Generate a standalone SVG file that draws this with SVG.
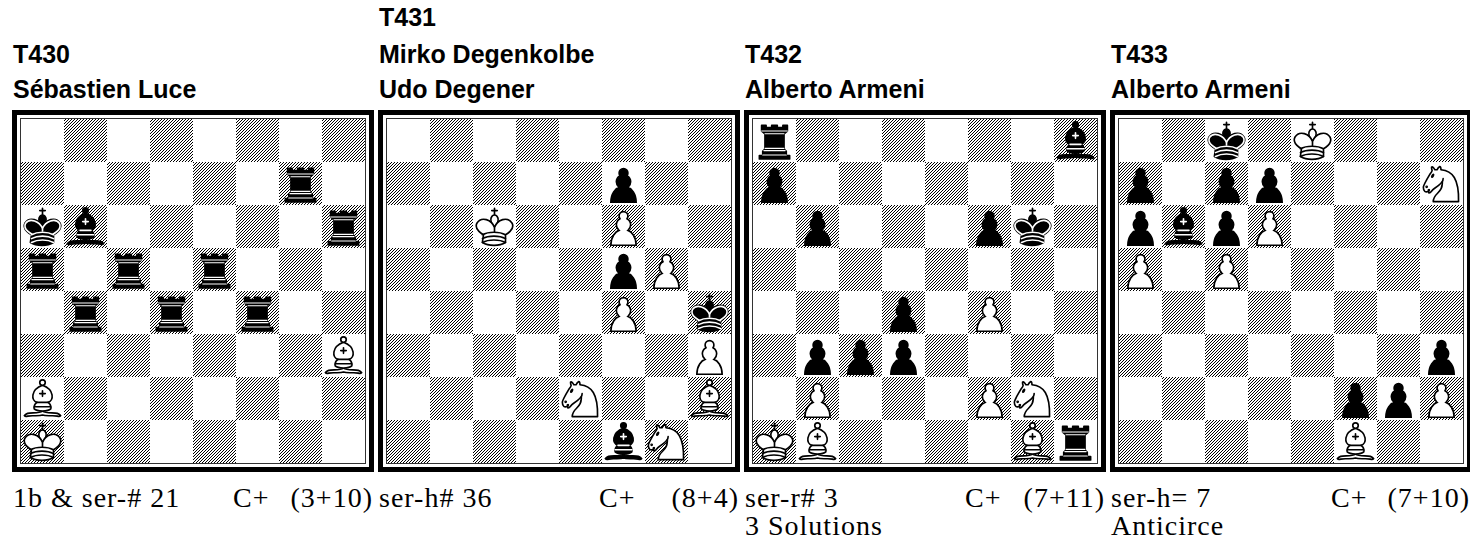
<svg xmlns="http://www.w3.org/2000/svg" xmlns:xlink="http://www.w3.org/1999/xlink" width="1470" height="542" viewBox="0 0 1470 542">
<style>
.t{font-family:"Liberation Sans",Arial,sans-serif;font-weight:bold;font-size:25px;fill:#000}
.s{font-family:"Liberation Serif","Times New Roman",serif;font-size:28px;letter-spacing:1px;fill:#000}
.e{text-anchor:end}
.frame{fill:none;stroke:#000;stroke-width:5}
.inner{fill:#fff;stroke:#333;stroke-width:1}
.pc{overflow:visible}
</style>
<defs>
<pattern id="hp" width="3" height="3" patternUnits="userSpaceOnUse">
<path d="M2,0h1v1h-1zM1,1h1v1h-1zM0,2h1v1h-1z" fill="#000" shape-rendering="crispEdges"/>
</pattern>
<path id="darks" fill="url(#hp)" d="M43,0h43v43h-43zM129,0h43v43h-43zM215,0h43v43h-43zM301,0h43v43h-43zM0,43h43v43h-43zM86,43h43v43h-43zM172,43h43v43h-43zM258,43h43v43h-43zM43,86h43v43h-43zM129,86h43v43h-43zM215,86h43v43h-43zM301,86h43v43h-43zM0,129h43v43h-43zM86,129h43v43h-43zM172,129h43v43h-43zM258,129h43v43h-43zM43,172h43v43h-43zM129,172h43v43h-43zM215,172h43v43h-43zM301,172h43v43h-43zM0,215h43v43h-43zM86,215h43v43h-43zM172,215h43v43h-43zM258,215h43v43h-43zM43,258h43v43h-43zM129,258h43v43h-43zM215,258h43v43h-43zM301,258h43v43h-43zM0,301h43v43h-43zM86,301h43v43h-43zM172,301h43v43h-43zM258,301h43v43h-43z"/>
<symbol id="wk" viewBox="0 0 45 45" class="pc">
<g transform="translate(22.5,22.5) scale(1.1) translate(-22.5,-22.5)" fill="none" fill-rule="evenodd" stroke="#000" stroke-width="1.5" stroke-linecap="round" stroke-linejoin="round">
<path d="M22.5,11.63V6M20,8h5" stroke-linejoin="miter"/>
<path d="M22.5,25C22.5,25 27,17.5 25.5,14.5C25.5,14.5 24.5,12 22.5,12C20.5,12 19.5,14.5 19.5,14.5C18,17.5 22.5,25 22.5,25" fill="#fff" stroke-linecap="butt" stroke-linejoin="miter"/>
<path d="M11.5,37C17,40.5 27,40.5 32.5,37L32.5,30C32.5,30 41.5,25.5 38.5,19.5C34.5,13 25,16 22.5,23.5L22.5,27L22.5,23.5C20,16 10.5,13 6.5,19.5C3.5,25.5 12.5,30 12.5,30L11.5,37" fill="#fff"/>
<path d="M11.5,30C17,27 27,27 32.5,30M11.5,33.5C17,30.5 27,30.5 32.5,33.5M11.5,37C17,34 27,34 32.5,37"/>
</g>
</symbol>
<symbol id="bk" viewBox="0 0 45 45" class="pc">
<g transform="translate(22.5,22.5) scale(1.1) translate(-22.5,-22.5)" fill="none" fill-rule="evenodd" stroke="#000" stroke-width="1.5" stroke-linecap="round" stroke-linejoin="round">
<path d="M22.5,11.63V6M20,8h5" stroke-linejoin="miter"/>
<path d="M22.5,25C22.5,25 27,17.5 25.5,14.5C25.5,14.5 24.5,12 22.5,12C20.5,12 19.5,14.5 19.5,14.5C18,17.5 22.5,25 22.5,25" fill="#000" stroke-linecap="butt" stroke-linejoin="miter"/>
<path d="M11.5,37C17,40.5 27,40.5 32.5,37L32.5,30C32.5,30 41.5,25.5 38.5,19.5C34.5,13 25,16 22.5,23.5L22.5,27L22.5,23.5C20,16 10.5,13 6.5,19.5C3.5,25.5 12.5,30 12.5,30L11.5,37" fill="#000"/>
<path d="M32,29.5C32,29.5 40.5,25.5 38.03,19.85C34.15,14 25,18 22.5,24.5L22.5,26.6L22.5,24.5C20,18 10.850,14 6.97,19.85C4.5,25.5 13,29.5 13,29.5" stroke="#fff"/>
<path d="M12.5,30C18,27 27,27 32.5,30M12.5,33.5C18,30.5 27,30.5 32.5,33.5M12.5,37C18,34 27,34 32.5,37" stroke="#fff"/>
</g>
</symbol>
<symbol id="br" viewBox="0 0 45 45" class="pc">
<g transform="translate(22.5,22.5) scale(1.12) translate(-22.5,-22.5)" fill="#000" fill-rule="evenodd" stroke="#000" stroke-width="1.5" stroke-linecap="round" stroke-linejoin="round">
<path d="M9,39h27v-3H9v3zM12.5,32l1.5-2.5h17l1.5,2.5h-20zM12,36v-4h21v4H12z" stroke-linecap="butt"/>
<path d="M14,29.5v-13h17v13H14z" stroke-linecap="butt" stroke-linejoin="miter"/>
<path d="M14,16.5L11,14h23l-3,2.5H14zM11,14V9h4v2h5V9h5v2h5V9h4v5H11z" stroke-linecap="butt"/>
<path d="M12,35.5h21M13,31.5h19M14,29.5h17M14,16.5h17M11,14h23" fill="none" stroke="#fff" stroke-width="1" stroke-linejoin="miter"/>
</g>
</symbol>
<symbol id="wb" viewBox="0 0 45 45" class="pc">
<g transform="translate(22.5,22.5) scale(1.1) translate(-22.5,-22.5)" fill="none" fill-rule="evenodd" stroke="#000" stroke-width="1.5" stroke-linecap="round" stroke-linejoin="round">
<g fill="#fff" stroke-linecap="butt">
<path d="M9,36C12.39,35.03 19.11,36.43 22.5,34C25.89,36.43 32.61,35.03 36,36C36,36 37.65,36.54 39,38C38.32,38.97 37.35,38.99 36,38.5C32.61,37.53 25.89,38.96 22.5,37.5C19.11,38.96 12.39,37.53 9,38.5C7.65,38.99 6.68,38.97 6,38C7.35,36.54 9,36 9,36z"/>
<path d="M15,32C17.5,34.5 27.5,34.5 30,32C30.5,30.5 30,30 30,30C30,27.5 27.5,26 27.5,26C33,24.5 33.5,14.5 22.5,10.5C11.5,14.5 12,24.5 17.5,26C17.5,26 15,27.5 15,30C15,30 14.5,30.5 15,32z"/>
<path d="M25,8A2.5,2.5 0 1 1 20,8A2.5,2.5 0 1 1 25,8z"/>
</g>
<path d="M17.5,26L27.5,26M15,30L30,30M22.5,15.5L22.5,20.5M20,18L25,18" stroke-linejoin="miter"/>
</g>
</symbol>
<symbol id="bb" viewBox="0 0 45 45" class="pc">
<g transform="translate(22.5,22.5) scale(1.1) translate(-22.5,-22.5)" fill="none" fill-rule="evenodd" stroke="#000" stroke-width="1.5" stroke-linecap="round" stroke-linejoin="round">
<g fill="#000" stroke-linecap="butt">
<path d="M9,36C12.39,35.03 19.11,36.43 22.5,34C25.89,36.43 32.61,35.03 36,36C36,36 37.65,36.54 39,38C38.32,38.97 37.35,38.99 36,38.5C32.61,37.53 25.89,38.96 22.5,37.5C19.11,38.96 12.39,37.53 9,38.5C7.65,38.99 6.68,38.97 6,38C7.35,36.54 9,36 9,36z"/>
<path d="M15,32C17.5,34.5 27.5,34.5 30,32C30.5,30.5 30,30 30,30C30,27.5 27.5,26 27.5,26C33,24.5 33.5,14.5 22.5,10.5C11.5,14.5 12,24.5 17.5,26C17.5,26 15,27.5 15,30C15,30 14.5,30.5 15,32z"/>
<path d="M25,8A2.5,2.5 0 1 1 20,8A2.5,2.5 0 1 1 25,8z"/>
</g>
<path d="M17.5,26L27.5,26M15,30L30,30M22.5,15.5L22.5,20.5M20,18L25,18" stroke="#fff" stroke-linejoin="miter"/>
</g>
</symbol>
<symbol id="wn" viewBox="0 0 45 45" class="pc">
<g transform="translate(22.5,22.5) scale(1.1) translate(-22.5,-22.5)" fill="none" fill-rule="evenodd" stroke="#000" stroke-width="1.5" stroke-linecap="round" stroke-linejoin="round">
<path d="M22,10C32.5,11 38.5,18 38,39L15,39C15,30 25,32.5 23,18" fill="#fff"/>
<path d="M24,18C24.38,20.91 18.45,25.37 16,27C13,29 13.18,31.34 11,31C9.958,30.06 12.41,27.96 11,28C10,28 11.19,29.23 10,30C9,30 5.997,31 6,26C6,24 12,14 12,14C12,14 13.89,12.1 14,10.5C13.27,9.506 13.5,8.5 13.5,7.5C14.5,6.5 16.5,10 16.5,10L18.5,10C18.5,10 19.28,8.008 21,7C22,7 22,10 22,10" fill="#fff"/>
<path d="M9.5,25.5A0.5,0.5 0 1 1 8.5,25.5A0.5,0.5 0 1 1 9.5,25.5z" fill="#000"/>
<path d="M15,15.5A0.5,1.5 0 1 1 14,15.5A0.5,1.5 0 1 1 15,15.5z" transform="matrix(0.866,0.5,-0.5,0.866,9.693,-5.173)" fill="#000"/>
</g>
</symbol>
<symbol id="wp" viewBox="0 0 45 45" class="pc">
<path transform="translate(22.5,22.5) scale(1.1) translate(-22.5,-22.5)" d="M22.5,9C20.29,9 18.5,10.79 18.5,13C18.5,13.89 18.79,14.71 19.28,15.38C17.33,16.5 16,18.59 16,21C16,23.03 16.940,24.84 18.41,26.03C15.41,27.09 11,31.58 11,39.5L34,39.5C34,31.58 29.59,27.09 26.59,26.03C28.06,24.84 29,23.03 29,21C29,18.59 27.67,16.5 25.72,15.38C26.21,14.71 26.5,13.89 26.5,13C26.5,10.79 24.71,9 22.5,9z" fill="#fff" stroke="#000" stroke-width="1.5" stroke-linecap="round"/>
</symbol>
<symbol id="bp" viewBox="0 0 45 45" class="pc">
<path transform="translate(22.5,22.5) scale(1.1) translate(-22.5,-22.5)" d="M22.5,9C20.29,9 18.5,10.79 18.5,13C18.5,13.89 18.79,14.71 19.28,15.38C17.33,16.5 16,18.59 16,21C16,23.03 16.940,24.84 18.41,26.03C15.41,27.09 11,31.58 11,39.5L34,39.5C34,31.58 29.59,27.09 26.59,26.03C28.06,24.84 29,23.03 29,21C29,18.59 27.67,16.5 25.72,15.38C26.21,14.71 26.5,13.89 26.5,13C26.5,10.79 24.71,9 22.5,9z" fill="#000" stroke="#000" stroke-width="1.5" stroke-linecap="round"/>
</symbol>
</defs>
<rect width="1470" height="542" fill="#fff"/>

<g id="T430">
<text class="t" x="13" y="63">T430</text>
<text class="t" x="13" y="98">Sébastien Luce</text>
<rect class="frame" x="14.5" y="112.5" width="357" height="357"/>
<rect class="inner" x="20.5" y="118.5" width="345" height="345"/>
<use xlink:href="#darks" x="21" y="119"/>
<use xlink:href="#br" x="278" y="161" width="45" height="45"/>
<use xlink:href="#bk" x="20" y="204" width="45" height="45"/>
<use xlink:href="#bb" x="63" y="204" width="45" height="45"/>
<use xlink:href="#br" x="321" y="204" width="45" height="45"/>
<use xlink:href="#br" x="20" y="247" width="45" height="45"/>
<use xlink:href="#br" x="106" y="247" width="45" height="45"/>
<use xlink:href="#br" x="192" y="247" width="45" height="45"/>
<use xlink:href="#br" x="63" y="290" width="45" height="45"/>
<use xlink:href="#br" x="149" y="290" width="45" height="45"/>
<use xlink:href="#br" x="235" y="290" width="45" height="45"/>
<use xlink:href="#wb" x="321" y="333" width="45" height="45"/>
<use xlink:href="#wb" x="20" y="376" width="45" height="45"/>
<use xlink:href="#wk" x="20" y="419" width="45" height="45"/>
<text class="s" x="13" y="507">1b &amp; ser-# 21</text>
<text class="s" x="233" y="507">C+</text>
<text class="s e" x="373" y="507">(3+10)</text>
</g>

<g id="T431">
<text class="t" x="379" y="26">T431</text>
<text class="t" x="379" y="63">Mirko Degenkolbe</text>
<text class="t" x="379" y="98">Udo Degener</text>
<rect class="frame" x="380.5" y="112.5" width="357" height="357"/>
<rect class="inner" x="386.5" y="118.5" width="345" height="345"/>
<use xlink:href="#darks" x="387" y="119"/>
<use xlink:href="#bp" x="601" y="161" width="45" height="45"/>
<use xlink:href="#wk" x="472" y="204" width="45" height="45"/>
<use xlink:href="#wp" x="601" y="204" width="45" height="45"/>
<use xlink:href="#bp" x="601" y="247" width="45" height="45"/>
<use xlink:href="#wp" x="644" y="247" width="45" height="45"/>
<use xlink:href="#wp" x="601" y="290" width="45" height="45"/>
<use xlink:href="#bk" x="687" y="290" width="45" height="45"/>
<use xlink:href="#wp" x="687" y="333" width="45" height="45"/>
<use xlink:href="#wn" x="558" y="376" width="45" height="45"/>
<use xlink:href="#wb" x="687" y="376" width="45" height="45"/>
<use xlink:href="#bb" x="601" y="419" width="45" height="45"/>
<use xlink:href="#wn" x="644" y="419" width="45" height="45"/>
<text class="s" x="379" y="507">ser-h# 36</text>
<text class="s" x="599" y="507">C+</text>
<text class="s e" x="739" y="507">(8+4)</text>
</g>

<g id="T432">
<text class="t" x="745" y="63">T432</text>
<text class="t" x="745" y="98">Alberto Armeni</text>
<rect class="frame" x="746.5" y="112.5" width="357" height="357"/>
<rect class="inner" x="752.5" y="118.5" width="345" height="345"/>
<use xlink:href="#darks" x="753" y="119"/>
<use xlink:href="#br" x="752" y="118" width="45" height="45"/>
<use xlink:href="#bb" x="1053" y="118" width="45" height="45"/>
<use xlink:href="#bp" x="752" y="161" width="45" height="45"/>
<use xlink:href="#bp" x="795" y="204" width="45" height="45"/>
<use xlink:href="#bp" x="967" y="204" width="45" height="45"/>
<use xlink:href="#bk" x="1010" y="204" width="45" height="45"/>
<use xlink:href="#bp" x="881" y="290" width="45" height="45"/>
<use xlink:href="#wp" x="967" y="290" width="45" height="45"/>
<use xlink:href="#bp" x="795" y="333" width="45" height="45"/>
<use xlink:href="#bp" x="838" y="333" width="45" height="45"/>
<use xlink:href="#bp" x="881" y="333" width="45" height="45"/>
<use xlink:href="#wp" x="795" y="376" width="45" height="45"/>
<use xlink:href="#wp" x="967" y="376" width="45" height="45"/>
<use xlink:href="#wn" x="1010" y="376" width="45" height="45"/>
<use xlink:href="#wk" x="752" y="419" width="45" height="45"/>
<use xlink:href="#wb" x="795" y="419" width="45" height="45"/>
<use xlink:href="#wb" x="1010" y="419" width="45" height="45"/>
<use xlink:href="#br" x="1053" y="419" width="45" height="45"/>
<text class="s" x="745" y="507">ser-r# 3</text>
<text class="s" x="745" y="535">3 Solutions</text>
<text class="s" x="965" y="507">C+</text>
<text class="s e" x="1105" y="507">(7+11)</text>
</g>

<g id="T433">
<text class="t" x="1111" y="63">T433</text>
<text class="t" x="1111" y="98">Alberto Armeni</text>
<rect class="frame" x="1112.5" y="112.5" width="357" height="357"/>
<rect class="inner" x="1118.5" y="118.5" width="345" height="345"/>
<use xlink:href="#darks" x="1119" y="119"/>
<use xlink:href="#bk" x="1204" y="118" width="45" height="45"/>
<use xlink:href="#wk" x="1290" y="118" width="45" height="45"/>
<use xlink:href="#bp" x="1118" y="161" width="45" height="45"/>
<use xlink:href="#bp" x="1204" y="161" width="45" height="45"/>
<use xlink:href="#bp" x="1247" y="161" width="45" height="45"/>
<use xlink:href="#wn" x="1419" y="161" width="45" height="45"/>
<use xlink:href="#bp" x="1118" y="204" width="45" height="45"/>
<use xlink:href="#bb" x="1161" y="204" width="45" height="45"/>
<use xlink:href="#bp" x="1204" y="204" width="45" height="45"/>
<use xlink:href="#wp" x="1247" y="204" width="45" height="45"/>
<use xlink:href="#wp" x="1118" y="247" width="45" height="45"/>
<use xlink:href="#wp" x="1204" y="247" width="45" height="45"/>
<use xlink:href="#bp" x="1419" y="333" width="45" height="45"/>
<use xlink:href="#bp" x="1333" y="376" width="45" height="45"/>
<use xlink:href="#bp" x="1376" y="376" width="45" height="45"/>
<use xlink:href="#wp" x="1419" y="376" width="45" height="45"/>
<use xlink:href="#wb" x="1333" y="419" width="45" height="45"/>
<text class="s" x="1111" y="507">ser-h= 7</text>
<text class="s" x="1111" y="535">Anticirce</text>
<text class="s" x="1331" y="507">C+</text>
<text class="s e" x="1470" y="507">(7+10)</text>
</g>
</svg>
